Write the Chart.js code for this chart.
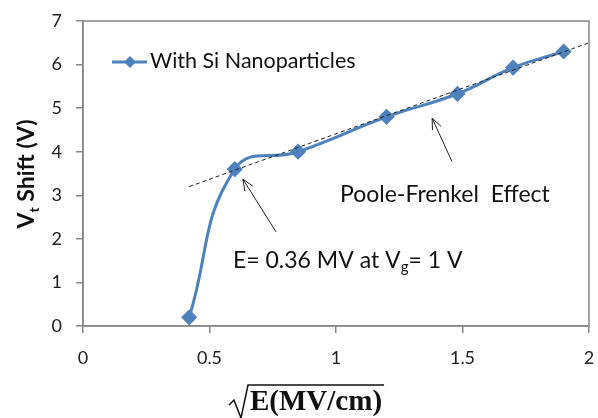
<!DOCTYPE html>
<html>
<head>
<meta charset="utf-8">
<script src="https://cdn.jsdelivr.net/npm/chart.js@4.4.0/dist/chart.umd.min.js"></script>
<style>
  html, body { margin: 0; padding: 0; background: #fff; }
  #wrap { width: 598px; height: 418px; }
</style>
</head>
<body>
<div id="wrap"><canvas id="vtChart"></canvas></div>
<script>
// Data
const fieldRoot = [0.42, 0.6, 0.85, 1.2, 1.48, 1.7, 1.9];
const vtShift = [0.2, 3.6, 4.0, 4.8, 5.33, 5.93, 6.3];
const fitRoot = [0.42, 2.0];
const fitShift = [3.2, 6.5];
const xTickValues = [0, 0.5, 1, 1.5, 2];
const yTickValues = [0, 1, 2, 3, 4, 5, 6, 7];
const seriesLabel = 'With Si Nanoparticles';

// Arrows in data units: [tailX, tailY, headX, headY]
const arrows = [
    [0.763, 2.16, 0.632, 3.37],
    [1.458, 3.78, 1.38, 4.77]
];

const BLUE = '#4F81BD';
const AXIS = '#888888';
const FONT = "Lato, 'Open Sans', sans-serif";

function toPoints(xs, ys) {
    return xs.map((x, i) => ({ x: x, y: ys[i] }));
}

function arrow(ctx, x1, y1, x2, y2) {
    const a = Math.atan2(y2 - y1, x2 - x1);
    const len = 12, spread = 0.4;
    ctx.beginPath();
    ctx.moveTo(x1, y1);
    ctx.lineTo(x2, y2);
    ctx.moveTo(x2 - len * Math.cos(a - spread), y2 - len * Math.sin(a - spread));
    ctx.lineTo(x2, y2);
    ctx.lineTo(x2 - len * Math.cos(a + spread), y2 - len * Math.sin(a + spread));
    ctx.stroke();
}

// Draws frame, legend, labels and arrows
const decorPlugin = {
    id: 'decor',
    afterDraw(chart) {
        const ctx = chart.ctx;
        const a = chart.chartArea;
        const xs = chart.scales.x, ys = chart.scales.y;
        ctx.save();

        // plot frame
        ctx.strokeStyle = AXIS;
        ctx.lineWidth = 1.5;
        ctx.strokeRect(a.left, a.top, a.right - a.left, a.bottom - a.top);

        // legend inside plot
        ctx.strokeStyle = BLUE;
        ctx.lineWidth = 3;
        ctx.beginPath();
        ctx.moveTo(112, 62);
        ctx.lineTo(147, 62);
        ctx.stroke();
        ctx.fillStyle = BLUE;
        ctx.beginPath();
        ctx.moveTo(130, 56); ctx.lineTo(136, 62); ctx.lineTo(130, 68); ctx.lineTo(124, 62);
        ctx.closePath();
        ctx.fill();
        ctx.fillStyle = '#111';
        ctx.font = '21.5px ' + FONT;
        ctx.textBaseline = 'alphabetic';
        ctx.textAlign = 'left';
        ctx.fillText(seriesLabel, 150, 68);

        // arrows
        ctx.strokeStyle = '#222';
        ctx.lineWidth = 1;
        arrows.forEach(r => {
            arrow(ctx, xs.getPixelForValue(r[0]), ys.getPixelForValue(r[1]),
                xs.getPixelForValue(r[2]), ys.getPixelForValue(r[3]));
        });

        // annotations
        ctx.fillStyle = '#111';
        ctx.font = '23px ' + FONT;
        ctx.fillText('Poole-Frenkel  Effect', 340, 202);
        let x = 233;
        const t1 = 'E= 0.36 MV at V';
        ctx.fillText(t1, x, 268);
        x += ctx.measureText(t1).width;
        ctx.font = '15px ' + FONT;
        ctx.fillText('g', x, 272);
        x += ctx.measureText('g').width;
        ctx.font = '23px ' + FONT;
        ctx.fillText('= 1 V', x, 268);

        // y axis title
        ctx.save();
        ctx.translate(34, 174);
        ctx.rotate(-Math.PI / 2);
        const big = 'bold 23px ' + FONT, small = 'bold 14px ' + FONT;
        ctx.font = small;
        const wt = ctx.measureText('t').width;
        ctx.font = big;
        const p1 = 'V', p3 = ' Shift (V)';
        const w1 = ctx.measureText(p1).width, w3 = ctx.measureText(p3).width;
        let sx = -(w1 + wt + w3) / 2;
        ctx.fillText(p1, sx, 0);
        sx += w1;
        ctx.font = small;
        ctx.fillText('t', sx, 5);
        sx += wt;
        ctx.font = big;
        ctx.fillText(p3, sx, 0);
        ctx.restore();

        // x axis title with radical
        ctx.font = "bold 29px 'Liberation Serif', serif";
        const body = 'E(MV/cm)';
        const bw = ctx.measureText(body).width;
        const bx = 250;
        ctx.fillText(body, bx, 410);
        ctx.strokeStyle = '#111';
        ctx.lineWidth = 1.5;
        ctx.beginPath();
        ctx.moveTo(229, 405);
        ctx.lineTo(234, 400);
        ctx.lineTo(241, 418);
        ctx.lineTo(248, 385);
        ctx.lineTo(bx + bw + 2, 385);
        ctx.stroke();

        ctx.restore();
    }
};

new Chart(document.getElementById('vtChart'), {
    type: 'scatter',
    data: {
        datasets: [
            {
                label: seriesLabel,
                data: toPoints(fieldRoot, vtShift),
                showLine: true,
                borderColor: BLUE,
                backgroundColor: BLUE,
                borderWidth: 3,
                tension: 0.45,
                pointStyle: 'rectRot',
                pointRadius: 6,
                pointHoverRadius: 6,
                order: 2
            },
            {
                label: 'fit',
                data: toPoints(fitRoot, fitShift),
                showLine: true,
                borderColor: '#222',
                borderWidth: 1,
                borderDash: [4, 3],
                pointRadius: 0,
                order: 1
            }
        ]
    },
    options: {
        responsive: true,
        maintainAspectRatio: false,
        animation: false,
        layout: { padding: { top: 21, right: 9, left: 0, bottom: 0 } },
        plugins: {
            legend: { display: false },
            tooltip: { enabled: false }
        },
        scales: {
            x: {
                type: 'linear',
                min: 0,
                max: 2,
                afterBuildTicks: s => { s.ticks = xTickValues.map(v => ({ value: v })); },
                afterFit: s => { s.height = 92; s.paddingLeft = 0; s.paddingRight = 0; },
                border: { display: true, color: AXIS, width: 1.5 },
                grid: { drawOnChartArea: false, color: AXIS, tickLength: 7, lineWidth: 1.5 },
                ticks: {
                    color: '#222',
                    font: { size: 18, family: FONT },
                    padding: 14,
                    callback: v => String(v)
                }
            },
            y: {
                min: 0,
                max: 7,
                afterBuildTicks: s => { s.ticks = yTickValues.map(v => ({ value: v })); },
                afterFit: s => { s.width = 83; s.paddingTop = 0; s.paddingBottom = 0; },
                border: { display: true, color: AXIS, width: 1.5 },
                grid: { drawOnChartArea: false, color: AXIS, tickLength: 7, lineWidth: 1.5 },
                ticks: {
                    color: '#222',
                    font: { size: 18, family: FONT },
                    padding: 14,
                    callback: v => String(v)
                }
            }
        }
    },
    plugins: [decorPlugin]
});
</script>
</body>
</html>
